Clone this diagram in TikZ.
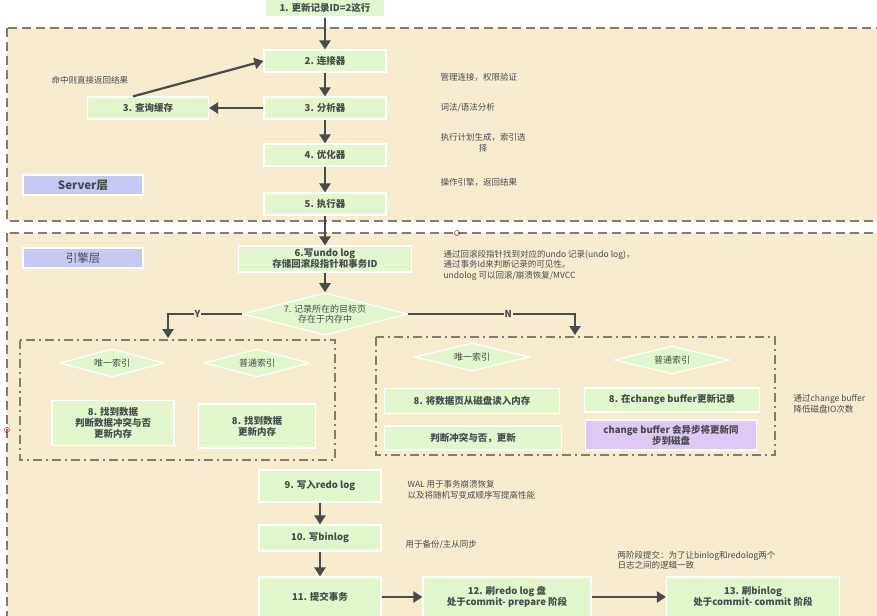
\documentclass[tikz,border=0pt]{standalone}
\usepackage{fontspec}
\setmainfont{Noto Sans CJK SC}
\usetikzlibrary{arrows.meta,shapes.geometric}
\definecolor{bg}{RGB}{247,235,208}
\definecolor{stepfill}{RGB}{226,247,205}
\definecolor{layerfill}{RGB}{200,200,245}
\definecolor{purp}{RGB}{222,200,245}
\definecolor{ink}{RGB}{70,75,75}
\definecolor{frame}{RGB}{130,125,110}
\tikzset{
	stepbox/.style = {draw = white, line width = 1.2pt, fill = stepfill, text = ink, align = center, font = \fontsize{9.5}{11}\selectfont\bfseries, inner sep = 2pt},
	choice/.style = {diamond, aspect = 3.5, draw = white, line width = 1.2pt, fill = stepfill, text = ink, align = center, font = \fontsize{9}{10.5}\selectfont, inner sep = 0pt, minimum width = 105pt, minimum height = 28pt},
	note/.style = {text = ink, align = left, anchor = west, font = \fontsize{8.5}{10.5}\selectfont},
	flow/.style = {line width = 2.2pt, draw = ink, -{Triangle[length = 9pt, width = 11pt]}}
}
\begin{document}
\begin{tikzpicture}[x = 1pt, y = -1pt]
	 \useasboundingbox (0, 0) rectangle (877, 615);
	 % layers
	 \draw[fill = bg, draw = frame, line width = 2pt, dash pattern = on 9pt off 5pt] (7, 28) rectangle (890, 221);
	 \draw[fill = bg, draw = frame, line width = 2pt, dash pattern = on 9pt off 5pt] (7, 233) rectangle (890, 630);
	 \draw[draw = frame, line width = 2pt, dash pattern = on 9pt off 4pt on 2pt off 4pt] (20, 340) rectangle (335, 460);
	 \draw[draw = frame, line width = 2pt, dash pattern = on 9pt off 4pt on 2pt off 4pt] (376, 337) rectangle (775, 455);
	 \draw[red!70!black] (457, 233) circle (2.5pt);
	 \draw[red!70!black] (7, 430) circle (2.5pt);

	 \node[stepbox, fill = layerfill, minimum width = 120pt, minimum height = 20pt, font = \fontsize{11.5}{12}\selectfont\bfseries] (server) at (83, 185) {Server层};
	 \node[stepbox, fill = layerfill, minimum width = 120pt, minimum height = 20pt, font = \fontsize{11.5}{12}\selectfont] (engine) at (83, 258) {引擎层};

	 % server
	 \node[stepbox, minimum width = 120pt, minimum height = 18pt] (s1) at (325, 8) {1. 更新记录ID=2这行};
	 \node[stepbox, minimum width = 122pt, minimum height = 22pt] (s2) at (325, 61) {2. 连接器};
	 \node[stepbox, minimum width = 122pt, minimum height = 22pt] (s3) at (325, 108) {3. 分析器};
	 \node[stepbox, minimum width = 121pt, minimum height = 22pt] (cache) at (148, 108) {3. 查询缓存};
	 \node[stepbox, minimum width = 122pt, minimum height = 22pt] (s4) at (325, 155) {4. 优化器};
	 \node[stepbox, minimum width = 122pt, minimum height = 22pt] (s5) at (325, 204) {5. 执行器};

	 \node[note] (hit) at (48, 80) {命中则直接返回结果};
	 \node[note] (n2) at (437, 77) {管理连接，权限验证};
	 \node[note] (n3) at (437, 108) {词法/语法分析};
	 \node[note, align = center] (n4) at (437, 143) {执行计划生成，索引选\\择};
	 \node[note] (n5) at (437, 182) {操作引擎，返回结果};

	 % engine
	 \node[stepbox, minimum width = 173pt, minimum height = 26pt] (s6) at (325, 259) {6.写undo log\\存储回滚段指针和事务ID};
	 \node[note] (n6) at (440, 265) {通过回滚段指针找到对应的undo 记录(undo log)，\\通过事务Id来判断记录的可见性。\\undolog 可以回滚/崩溃恢复/MVCC};
	 \node[choice, minimum width = 165pt, minimum height = 32pt] (s7) at (325, 314) {7. 记录所在的目标页\\存在于内存中};
	 \coordinate (yes) at (168, 338);
	 \coordinate (no) at (575, 335);

	 \node[choice] (uniqL) at (112, 363) {唯一索引};
	 \node[choice] (normL) at (257, 363) {普通索引};
	 \node[stepbox, minimum width = 122pt, minimum height = 45pt, font = \fontsize{9.5}{11}\selectfont\bfseries] (s8a) at (113, 423) {8. 找到数据\\判断数据冲突与否\\更新内存};
	 \node[stepbox, minimum width = 117pt, minimum height = 44pt] (s8b) at (257, 426) {8. 找到数据\\更新内存};

	 \node[choice, minimum width = 115pt] (uniqR) at (472, 357) {唯一索引};
	 \node[choice, minimum width = 115pt] (normR) at (672, 360) {普通索引};
	 \node[stepbox, minimum width = 175pt, minimum height = 25pt] (s8c) at (472, 401) {8. 将数据页从磁盘读入内存};
	 \node[stepbox, minimum width = 177pt, minimum height = 24pt] (judge) at (473, 438) {判断冲突与否，更新};
	 \node[stepbox, minimum width = 175pt, minimum height = 24pt] (s8d) at (672, 400) {8. 在change buffer更新记录};
	 \node[stepbox, fill = purp, minimum width = 171pt, minimum height = 30pt] (sync) at (671, 435) {change buffer 会异步将更新同\\步到磁盘};
	 \node[note] (n8) at (790, 404) {通过change buffer\\降低磁盘IO次数};

	 \node[stepbox, minimum width = 122pt, minimum height = 32pt] (s9) at (320, 486) {9. 写入redo log};
	 \node[note] (n9) at (404, 490) {WAL 用于事务崩溃恢复\\以及将随机写变成顺序写提高性能};
	 \node[stepbox, minimum width = 122pt, minimum height = 26pt] (s10) at (320, 538) {10. 写binlog};
	 \node[note] (n10) at (402, 545) {用于备份/主从同步};
	 \node[stepbox, minimum width = 122pt, minimum height = 40pt] (s11) at (320, 597) {11. 提交事务};
	 \node[stepbox, minimum width = 168pt, minimum height = 40pt] (s12) at (507, 597) {12. 刷redo log 盘\\处于commit- prepare 阶段};
	 \node[stepbox, minimum width = 173pt, minimum height = 40pt] (s13) at (753, 597) {13. 刷binlog\\处于commit- commit 阶段};
	 \node[note] (n12) at (614, 560) {两阶段提交：为了让binlog和redolog两个\\日志之间的逻辑一致};

	 % arrows
	 \draw[flow] (s1) -- (s2);
	 \draw[flow] (s2) -- (s3);
	 \draw[flow] (s3) -- (cache);
	 \draw[flow] (cache.north) ++(-15, 0) -- (s2.west);
	 \draw[flow] (s3) -- (s4);
	 \draw[flow] (s4) -- (s5);
	 \draw[flow] (s5) -- (s6);
	 \draw[flow] (s6) -- (s7);
	 \draw[flow] (s7.west) -| node[pos = 0.3, fill = bg, inner sep = 1pt, text = ink, font = \fontsize{9.5}{10}\selectfont\bfseries] {Y} (yes);
	 \draw[flow] (s7.east) -| node[pos = 0.3, fill = bg, inner sep = 1pt, text = ink, font = \fontsize{9.5}{10}\selectfont\bfseries] {N} (no);
	 \draw[flow] (s9) -- (s10);
	 \draw[flow] (s10) -- (s11);
	 \draw[flow] (s11) -- (s12);
	 \draw[flow] (s12) -- (s13);
\end{tikzpicture}
\end{document}
